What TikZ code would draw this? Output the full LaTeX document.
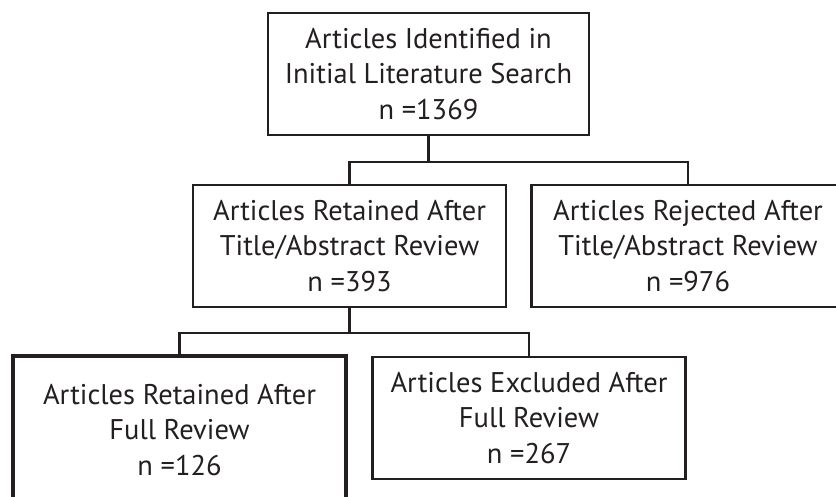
\documentclass[tikz,border=0pt]{standalone}
\usepackage{fontspec}
\setmainfont{PT Sans}
\usetikzlibrary{positioning}
\definecolor{ink}{HTML}{231F20}

\begin{document}
\begin{tikzpicture}
	\useasboundingbox (0,0) rectangle (16.72,-9.92);
	\clip (0,0) rectangle (16.72,-9.92);
	\tikzstyle{every node}=[draw=ink, text=ink, rectangle, line width=1.3pt, align=center, inner sep=0pt, font=\fontsize{16.2}{20.2}\selectfont, minimum height=2.44cm, minimum width=6.26cm]
	\draw (8.57,-1.48) node (search) [minimum width=6.42cm]{Articles Identified in\\Initial Literature Search\\n =1369};
	\draw (6.99,-4.92) node (retained) {Articles Retained After\\Title/Abstract Review\\n =393};
	\draw (13.76,-4.92) node (rejected) {Articles Rejected After\\Title/Abstract Review\\n =976};
	\draw (3.59,-8.6) node (final) [line width=2.6pt, minimum width=6.66cm, minimum height=2.96cm]{Articles Retained After\\Full Review\\n =126};
	\draw (10.58,-8.36) node (excluded) {Articles Excluded After\\Full Review\\n =267};

	\tikzstyle{every node}=[font=\scriptsize,fill=none]
	\path (search.south) ++(0,-0.52) coordinate (split1);
	\path (retained.south) ++(0,-0.49) coordinate (split2);
	\draw [ink, line width=1.3pt] (search.south) -- (split1) -| (retained.north);
	\draw [ink, line width=1.3pt] (split1) -| (rejected.north);
	\draw [ink, line width=1.3pt] (retained.south) -- (split2) -| (final.north);
	\draw [ink, line width=1.3pt] (split2) -| (excluded.north);
\end{tikzpicture}
\end{document}
